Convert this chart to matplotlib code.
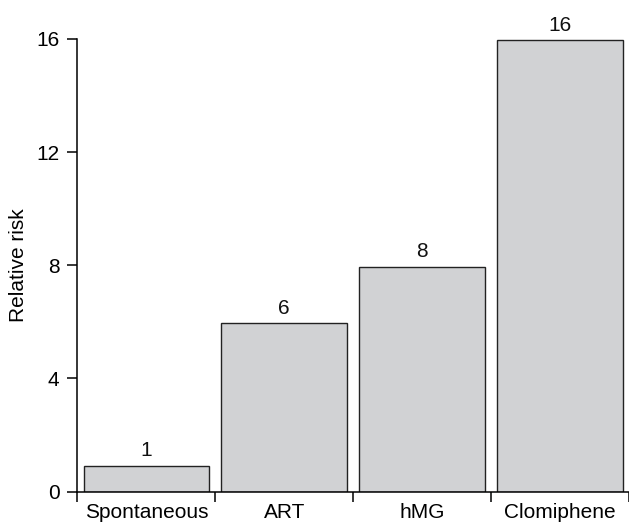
import matplotlib

matplotlib.use("Agg")
import matplotlib.pyplot as plt
import numpy as np

categories = ["Spontaneous", "ART", "hMG", "Clomiphene"]
relative_risk = [0.92, 5.95, 7.95, 15.95]
value_labels = ["1", "6", "8", "16"]
y_ticks = [0, 4, 8, 12, 16]

plt.rcParams["font.family"] = ["Liberation Sans", "DejaVu Sans"]
plt.rcParams["font.size"] = 15

fig = plt.figure(figsize=(6.29, 5.26), dpi=100)
ax = fig.add_axes([0.1232, 0.0652, 1 - 0.1232, 1 - 0.0652])

x = np.arange(len(categories)) + 0.5
bars = ax.bar(x, relative_risk, width=0.912, color="#d1d2d4",
              edgecolor="#222222", linewidth=1.0)
for b, lab in zip(bars, value_labels):
    ax.text(b.get_x() + b.get_width() / 2, b.get_height() + 0.2, lab,
            ha="center", va="bottom", color="#111111")

ax.set_xlim(0, 3.96)
ax.set_ylim(0, 17.37)
ax.set_yticks(y_ticks)
ax.set_xticks(np.arange(len(categories) + 1))
ax.set_xticklabels([])
ax.set_xticks(x, minor=True)
ax.set_xticklabels(categories, minor=True)
ax.tick_params(axis="x", which="minor", length=0, pad=8)
ax.tick_params(axis="x", which="major", length=7, width=1.1, direction="out")
ax.tick_params(axis="y", length=7, width=1.1, direction="out", pad=6)

for s in ["top", "right"]:
    ax.spines[s].set_visible(False)
ax.spines["left"].set_bounds(0, 16)
ax.spines["left"].set_linewidth(1.1)
ax.spines["bottom"].set_linewidth(1.1)

# y label centred on the 0-16 span of the axis
fig.text(19 / 629, 1 - 265 / 526, "Relative risk", rotation=90,
         ha="center", va="center")

fig.savefig("out.png", dpi=100)
